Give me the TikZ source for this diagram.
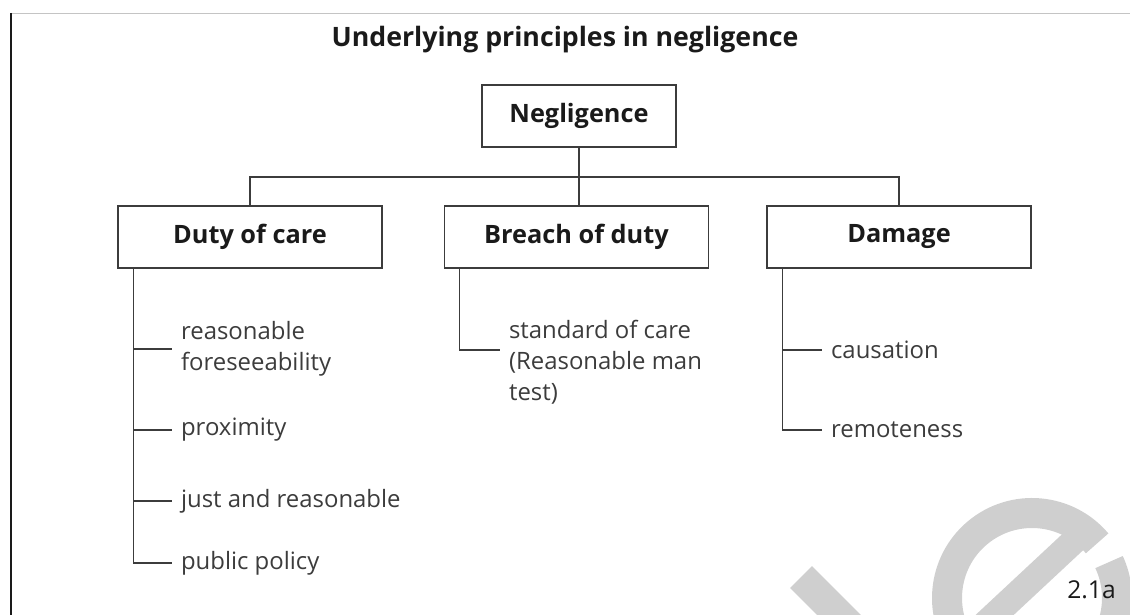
\documentclass[tikz,border=0pt]{standalone}
\usepackage{fontspec}
\setmainfont{Open Sans}
\usepackage{tikz}
\usetikzlibrary{positioning,calc}
\definecolor{ink}{HTML}{1A1A1A}
\definecolor{wm}{HTML}{CFCFCF}
\definecolor{rule}{HTML}{C4C4C4}
\tikzstyle{box} = [draw=ink!85,line width=0.9pt,minimum width=6.6cm,minimum height=1.55cm,font=\fontsize{18}{22}\selectfont\bfseries,text=ink]
\tikzstyle{item} = [anchor=west,inner xsep=0.22cm,inner ysep=0pt,align=left,font=\fontsize{17}{22}\selectfont,text=ink!85]
\tikzstyle{link} = [draw=ink!85,line width=0.9pt]

\begin{document}
\begin{tikzpicture}[x=0.025cm,y=-0.025cm]
  \useasboundingbox (0,0) rectangle (1130,615);
  % watermark behind everything
  \begin{scope}
    \clip (11,13) rectangle (1130,615);
    \draw [wm,line width=0.775cm] (801,577) -- (881,657);
    \draw [wm,line width=0.75cm] (1032,598) ++(-40:85) arc[start angle=-40,end angle=-385,radius=85];
    \draw [wm,line width=0.65cm] (1023,588.5) ++(-43:88) -- ++(137:200);
  \end{scope}
  % frame
  \draw [rule,line width=0.7pt] (11,13) -- (1130,13);
  \draw [ink,line width=1pt] (11,13) -- (11,615);

  \node [font=\fontsize{19}{23}\selectfont\bfseries,text=ink,anchor=base] (title) at (565,47) {Underlying principles in negligence};

  \node [box,minimum width=4.85cm] (neg) at (579,116) {Negligence};
  \node [box] (duty) at (250,237) {Duty of care};
  \node [box] (brd) at (576.5,237) {Breach of duty};
  \node [box] (dam) at (899,237) {Damage};
  \coordinate (bus) at (579,177);
  \draw [link] (neg.south) -- (neg.south |- brd.north);
  \draw [link] (duty.north) |- (bus) -| (dam.north);

  \node [item] (rf) at (172,349) {reasonable\\foreseeability};
  \node [item] (px) at (172,430) {proximity};
  \node [item] (jr) at (172,501) {just and reasonable};
  \node [item] (pp) at (172,563) {public policy};
  \node [item] (std) at (500,362) {standard of care\\(Reasonable man\\test)};
  \node [item] (cau) at (822,350) {causation};
  \node [item] (rem) at (822,430) {remoteness};

  \coordinate (dsp) at ([xshift=0.4cm]duty.south west);
  \draw [link] (dsp) |- (pp.west);
  \foreach \n in {rf,px,jr} \draw [link] (dsp |- \n.west) -- (\n.west);
  \draw [link] ([xshift=0.4cm]brd.south west) |- ([yshift=0.3cm]std.west);
  \coordinate (msp) at ([xshift=0.4cm]dam.south west);
  \draw [link] (msp) |- (rem.west);
  \draw [link] (msp |- cau.west) -- (cau.west);

  \node [font=\fontsize{17.5}{20}\selectfont,text=ink,anchor=base east,inner sep=0pt] (fig) at (1116,598) {2.1a};
\end{tikzpicture}
\end{document}
